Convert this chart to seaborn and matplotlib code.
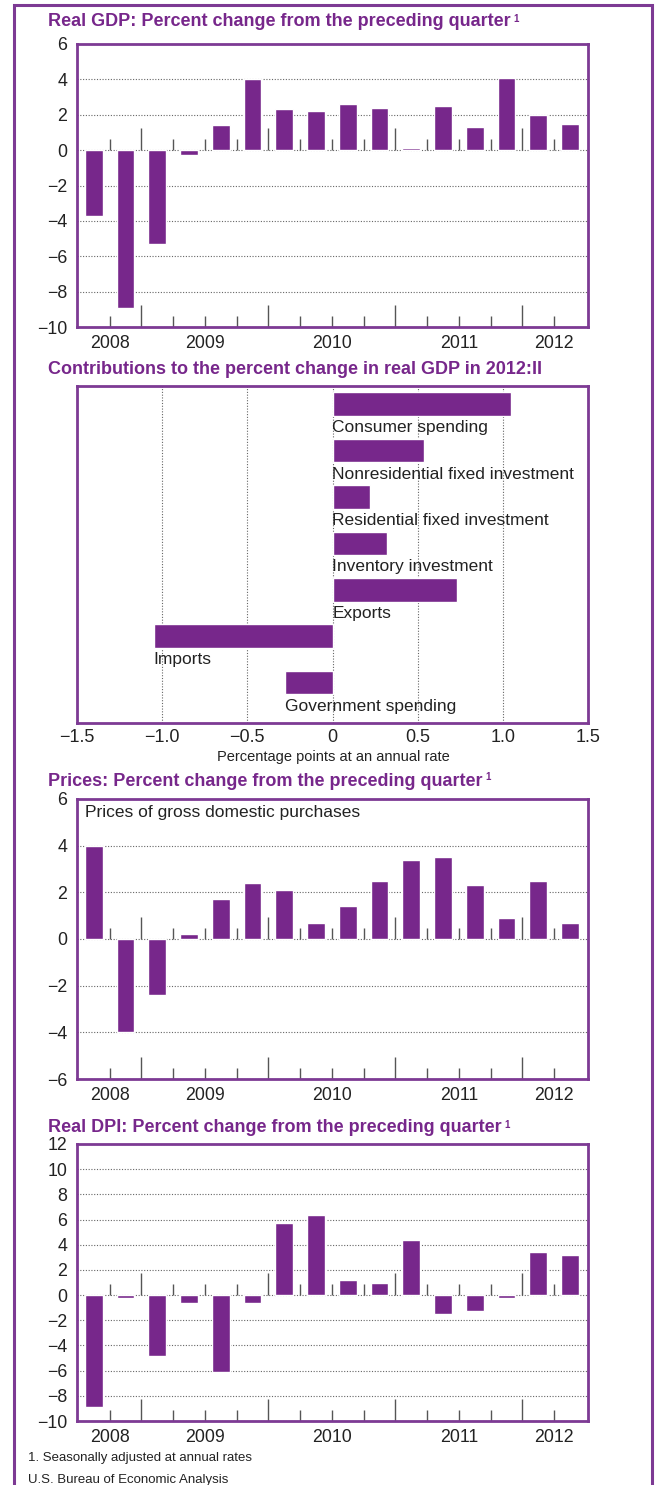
import matplotlib
matplotlib.use("Agg")
import matplotlib.pyplot as plt
from matplotlib.patches import Rectangle
import seaborn as sns

# quarterly data, 2008:III - 2012:II
quarters = ["2008Q3", "2008Q4",
            "2009Q1", "2009Q2", "2009Q3", "2009Q4",
            "2010Q1", "2010Q2", "2010Q3", "2010Q4",
            "2011Q1", "2011Q2", "2011Q3", "2011Q4",
            "2012Q1", "2012Q2"]
gdp = [-3.7, -8.9, -5.3, -0.3, 1.4, 4.0, 2.3, 2.2, 2.6, 2.4, 0.1, 2.5, 1.3, 4.1, 2.0, 1.5]
prices = [4.0, -4.0, -2.4, 0.2, 1.7, 2.4, 2.1, 0.7, 1.4, 2.5, 3.4, 3.5, 2.3, 0.9, 2.5, 0.7]
real_dpi = [-8.9, -0.2, -4.8, -0.6, -6.1, -0.6, 5.7, 6.4, 1.2, 1.0, 4.4, -1.5, -1.3, -0.2, 3.4, 3.2]
years = ["2008", "2009", "2010", "2011", "2012"]

# contributions to GDP change in 2012:II
components = ["Consumer spending", "Nonresidential fixed investment",
              "Residential fixed investment", "Inventory investment",
              "Exports", "Imports", "Government spending"]
contrib = [1.05, 0.54, 0.22, 0.32, 0.73, -1.05, -0.28]
contrib_ticks = [-1.5, -1.0, -0.5, 0, 0.5, 1.0, 1.5]

W, H = 655, 1485
PURPLE = "#77278b"
FRAME = "#7d3a94"
TEXT = "#222222"

sns.set_style("white")
plt.rcParams["font.family"] = ["Liberation Sans", "DejaVu Sans"]
plt.rcParams["axes.unicode_minus"] = True

fig = plt.figure(figsize=(W / 100, H / 100), dpi=100)


def px_axes(left, top, right, bottom):
    ax = fig.add_axes([left / W, 1 - bottom / H, (right - left) / W, (bottom - top) / H])
    for s in ax.spines.values():
        s.set_color(FRAME)
        s.set_linewidth(2.0)
        s.set_visible(True)
    return ax


def title(y, txt, sup=True):
    t = fig.text(48 / W, 1 - y / H, txt, ha="left", va="center", fontsize=13,
                 fontweight="bold", color=PURPLE)
    if sup:
        r = fig.canvas.get_renderer()
        bb = t.get_window_extent(r)
        fig.text((bb.x1 + 3) / W, bb.y1 / H, "1", ha="left", va="top", fontsize=7,
                 fontweight="bold", color=PURPLE)


def quarter_panel(ax, values, ylo, yhi):
    sns.barplot(x=quarters, y=values, color=PURPLE, saturation=1, width=0.56, ax=ax)
    ax.set_xlim(-0.53, len(quarters) - 1 + 0.57)
    ax.set_ylim(ylo, yhi)
    ax.set_yticks(range(ylo, yhi + 1, 2))
    ax.yaxis.grid(True, linestyle=(0, (1, 1.5)), color="#666666", linewidth=0.8)
    ax.set_axisbelow(True)
    ax.set_xlabel("")
    ax.set_ylabel("")
    ax.tick_params(axis="y", length=0, pad=7, labelsize=12.8, labelcolor=TEXT)
    # year labels centred under each year's quarters
    pos = []
    for yr in years:
        idx = [i for i, q in enumerate(quarters) if q.startswith(yr)]
        pos.append(sum(idx) / len(idx))
    ax.set_xticks(pos, years)
    ax.tick_params(axis="x", length=0, pad=6, labelsize=12.8, labelcolor=TEXT)
    # quarter separators at the bottom edge and on the zero line
    for i in range(len(quarters) - 1):
        tall = quarters[i + 1].endswith("Q1")
        ms = 15.8 if tall else 7.9
        for yb in (ylo, 0):
            ax.plot([i + 0.5], [yb], marker=2, markersize=ms, color="#555555",
                    markeredgewidth=1.0, clip_on=False, zorder=1)


# panel 1: real GDP
ax1 = px_axes(77, 44, 588, 327)
quarter_panel(ax1, gdp, -10, 6)
title(22, "Real GDP: Percent change from the preceding quarter")

# panel 2: contributions
ax2 = px_axes(77, 386, 588, 723)
sns.barplot(x=contrib, y=components, orient="h", color=PURPLE, saturation=1,
            width=0.51, ax=ax2)
ax2.set_xlim(-1.5, 1.5)
ax2.set_ylim(len(components) - 1 + 0.87, -0.39)
ax2.set_xticks(contrib_ticks,
               [f"{t:.1f}".replace("-", "\u2212") if t != 0 else "0" for t in contrib_ticks])
ax2.set_yticks([])
ax2.set_xlabel("")
ax2.set_ylabel("")
ax2.xaxis.grid(True, linestyle=(0, (1, 1.5)), color="#666666", linewidth=0.8)
ax2.set_axisbelow(True)
ax2.tick_params(axis="x", length=0, pad=4, labelsize=13, labelcolor=TEXT)
for i, (c, v) in enumerate(zip(components, contrib)):
    ax2.text(min(0, v), i + 0.255 + 0.09, c, ha="left", va="top", fontsize=12.5,
             color=TEXT)
fig.text(333 / W, 1 - 757 / H, "Percentage points at an annual rate", ha="center",
         va="center", fontsize=10.5, color=TEXT)
title(370, "Contributions to the percent change in real GDP in 2012:II", sup=False)

# panel 3: prices
ax3 = px_axes(77, 799, 588, 1079)
quarter_panel(ax3, prices, -6, 6)
fig.text(85 / W, 1 - 813 / H, "Prices of gross domestic purchases", ha="left",
         va="center", fontsize=12.5, color=TEXT)
title(781, "Prices: Percent change from the preceding quarter")

# panel 4: real DPI
ax4 = px_axes(77, 1144, 588, 1421)
quarter_panel(ax4, real_dpi, -10, 12)
title(1128, "Real DPI: Percent change from the preceding quarter")

fig.text(28 / W, 1 - 1458 / H, "1. Seasonally adjusted at annual rates", ha="left",
         va="center", fontsize=9.5, color=TEXT)
fig.text(28 / W, 1 - 1480 / H, "U.S. Bureau of Economic Analysis", ha="left",
         va="center", fontsize=9.5, color=TEXT)

# outer frame
fig.add_artist(Rectangle((14 / W, -0.02), (652 - 14) / W, 0.02 + 1 - 5 / H,
                         transform=fig.transFigure, fill=False, edgecolor=FRAME,
                         linewidth=2.2))

fig.savefig("out.png", dpi=100)
